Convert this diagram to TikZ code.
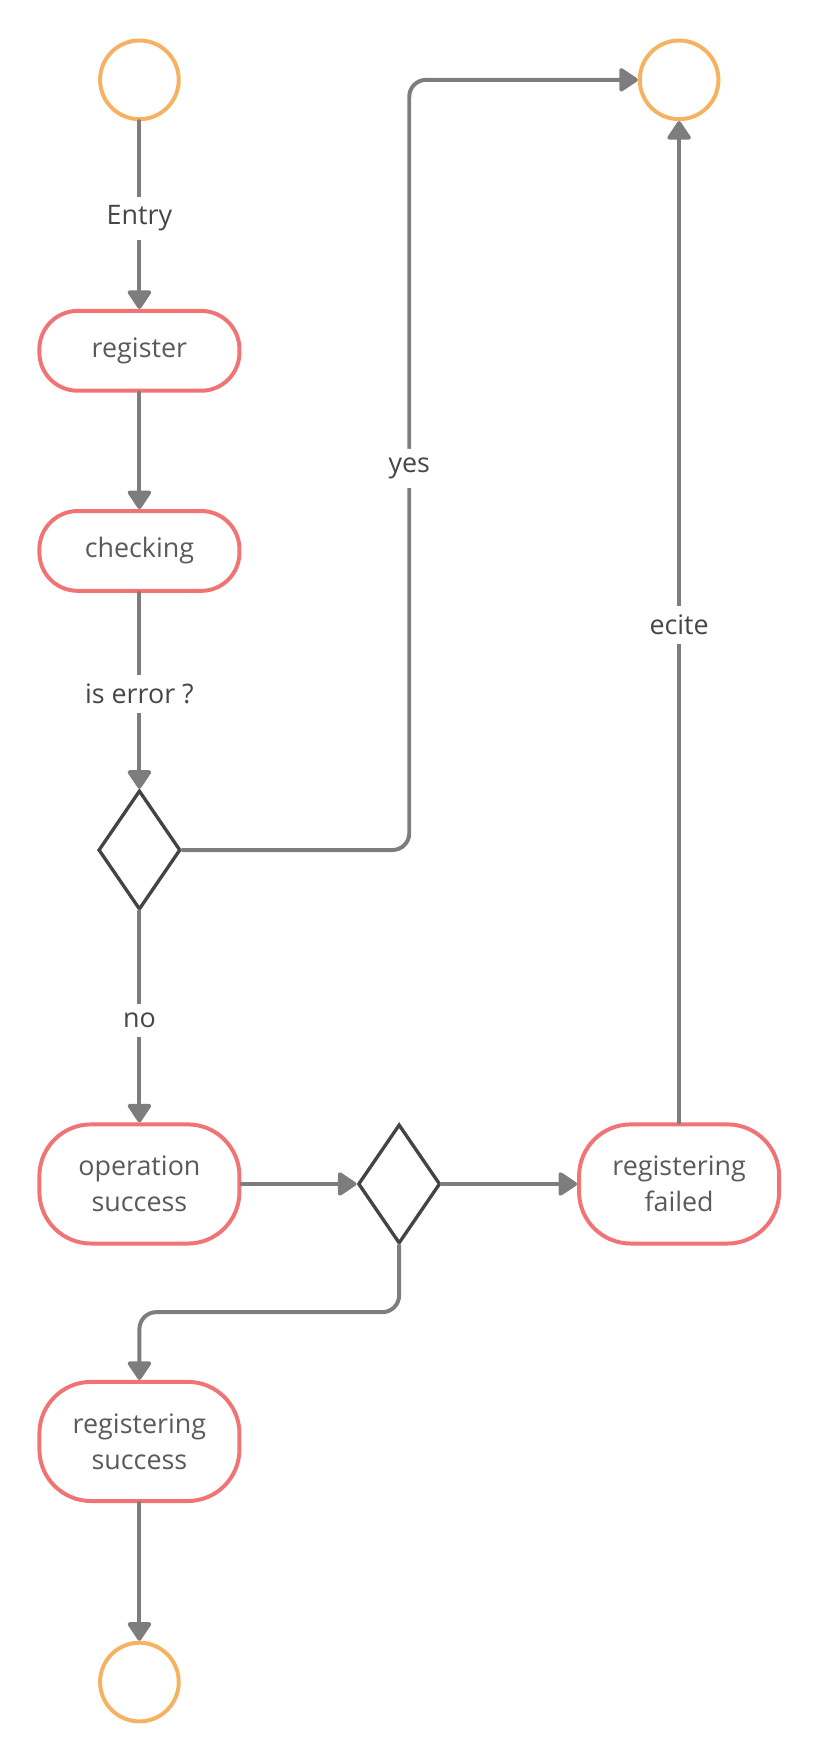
\documentclass[tikz,border=0pt]{standalone}
\usepackage{fontspec}
\setmainfont{Open Sans}
\usetikzlibrary{shapes.geometric,arrows.meta}

\begin{document}
\begin{tikzpicture}
	[x=0.02cm,y=-0.02cm,line cap=round,
	%Styles
	connector/.style={draw=linegray,line width=2pt,-{Triangle[length=0.36cm,width=0.46cm,round]}},
	line label/.style={fill=white,text=labelgray,inner xsep=2pt,inner ysep=0.16cm,yshift=-0.06cm,font=\fontsize{13.6}{18.2}\selectfont},
	terminal/.style={circle,draw=termorange,line width=2pt,minimum size=1.4cm,inner sep=0pt},
	action/.style={rectangle,rounded corners=0.68cm,draw=actionred,line width=2pt,minimum width=3.56cm,minimum height=1.42cm,text=nodegray,align=center,font=\fontsize{13.6}{18.2}\selectfont},
	tall action/.style={action,rounded corners=0.92cm,minimum height=2.12cm},
	choice/.style={diamond,draw=choicegray,line width=1.7pt,minimum width=1.46cm,minimum height=2.12cm,inner sep=0pt}
	]

	%Colors
	\definecolor{termorange}{RGB}{246,178,96}
	\definecolor{actionred}{RGB}{242,115,115}
	\definecolor{linegray}{RGB}{125,125,125}
	\definecolor{choicegray}{RGB}{68,68,68}
	\definecolor{labelgray}{RGB}{70,70,70}
	\definecolor{nodegray}{RGB}{90,90,90}

	\useasboundingbox (0,0) rectangle (729,1568);

	%The graphic
	\node[terminal] (start) at (124,71) {};
	\node[terminal] (errend) at (604,71) {};
	\node[action] (register) at (124,312) {register};
	\node[action] (checking) at (124,490) {checking};
	\node[choice] (iserror) at (124,756) {};
	\node[tall action] (opsuccess) at (124,1053) {operation\\success};
	\node[choice] (result) at (355,1053) {};
	\node[tall action] (regfailed) at (604,1053) {registering\\failed};
	\node[tall action] (regsuccess) at (124,1282) {registering\\success};
	\node[terminal] (okend) at (124,1496) {};

	\draw[connector] (start) -- node[line label] {Entry} (register);
	\draw[connector] (register) -- (checking);
	\draw[connector] (checking) -- node[line label] {is error ?} (iserror);
	\draw[connector] (iserror) -- node[line label] {no} (opsuccess);
	\draw[connector,rounded corners=0.3cm] (iserror.east) -- (364,756) -- node[line label] {yes} (364,71) -- (errend.west);
	\draw[connector] (opsuccess.east) -- (result.west);
	\draw[connector] (result.east) -- (regfailed.west);
	\draw[connector] (regfailed) -- node[line label] {ecite} (errend);
	\draw[connector,rounded corners=0.3cm] (result.south) -- (355,1167) -- (124,1167) -- (regsuccess.north);
	\draw[connector] (regsuccess) -- (okend);
\end{tikzpicture}
\end{document}
